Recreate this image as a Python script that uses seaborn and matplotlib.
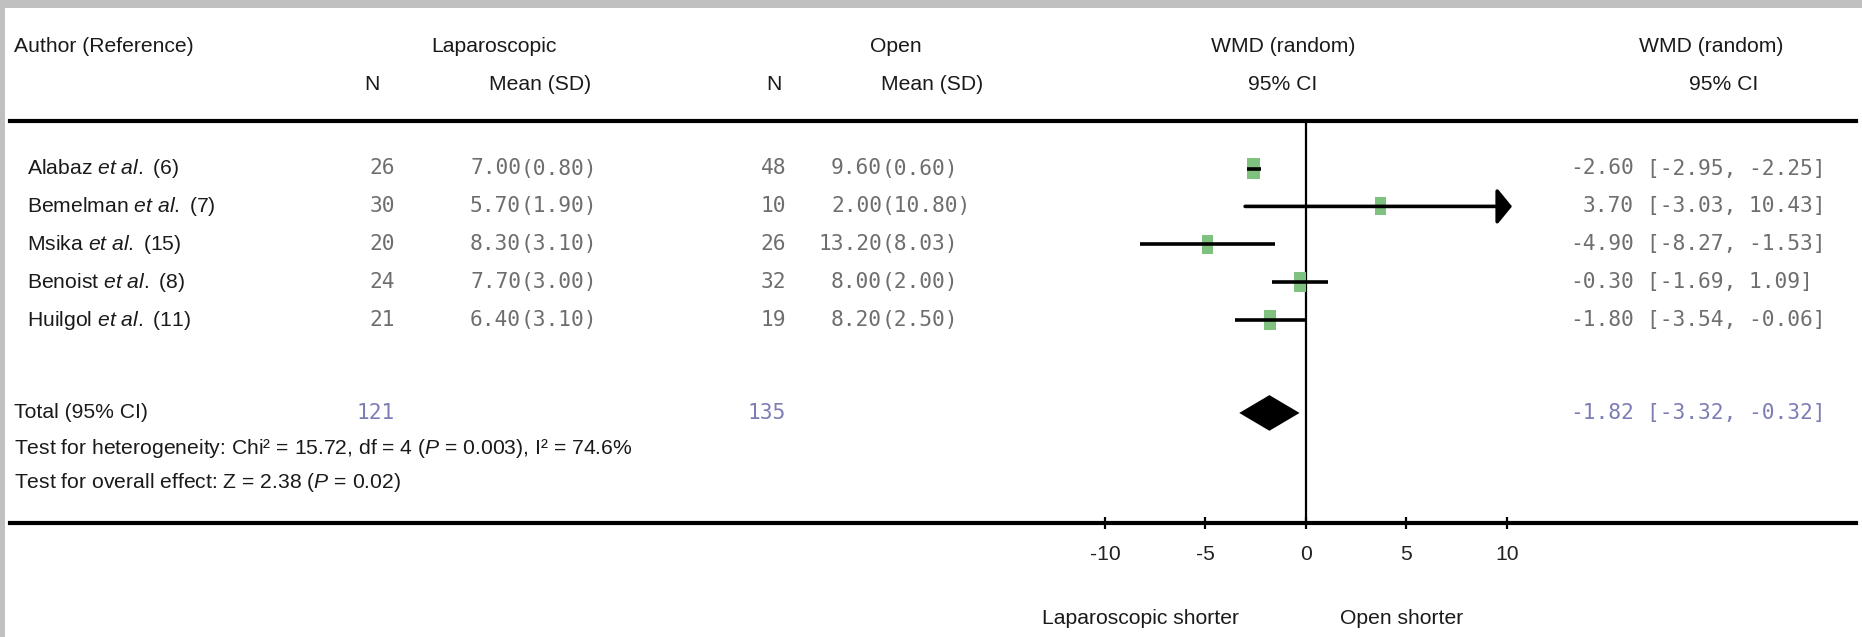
import numpy as np
import pandas as pd
import matplotlib
matplotlib.use("Agg")
import matplotlib.pyplot as plt
import seaborn as sns
from matplotlib import transforms
from matplotlib.patches import Rectangle

# ---------------- data ----------------
authors = ["Alabaz", "Bemelman", "Msika", "Benoist", "Huilgol"]
refs = [6, 7, 15, 8, 11]
lap_n = [26, 30, 20, 24, 21]
lap_mean = [7.00, 5.70, 8.30, 7.70, 6.40]
lap_sd = [0.80, 1.90, 3.10, 3.00, 3.10]
open_n = [48, 10, 26, 32, 19]
open_mean = [9.60, 2.00, 13.20, 8.00, 8.20]
open_sd = [0.60, 10.80, 8.03, 2.00, 2.50]
wmd = [-2.60, 3.70, -4.90, -0.30, -1.80]
ci_low = [-2.95, -3.03, -8.27, -1.69, -3.54]
ci_high = [-2.25, 10.43, -1.53, 1.09, -0.06]
weight = [33.4, 4.3, 12.5, 26.4, 23.4]
total_lap_n = 121
total_open_n = 135
total_wmd = -1.82
total_low = -3.32
total_high = -0.32
x_ticks = [-10, -5, 0, 5, 10]
heterogeneity = "Test for heterogeneity: Chi² = 15.72, df = 4 ($\\mathit{P}$ = 0.003), I² = 74.6%"
overall = "Test for overall effect: Z = 2.38 ($\\mathit{P}$ = 0.02)"
left_label = "Laparoscopic shorter"
right_label = "Open shorter"

# ---------------- style ----------------
sns.set_theme(style="white")
fam = "Liberation Sans"
fs = 15.2
mono = "DejaVu Sans Mono"
mfs = 15.3
plt.rcParams["font.family"] = [fam, "DejaVu Sans"]
plt.rcParams["mathtext.fontset"] = "custom"
plt.rcParams["mathtext.rm"] = fam
plt.rcParams["mathtext.it"] = fam + ":italic"
plt.rcParams["axes.unicode_minus"] = False

W, H = 1862, 637
fig = plt.figure(figsize=(W / 100, H / 100), dpi=100)
fig.patch.set_facecolor("#c0c0c0")
fig.add_artist(Rectangle((5 / W, 0), 1, 1 - 8 / H, transform=fig.transFigure,
                         facecolor="white", edgecolor="none", zorder=-10))

zero_px, ppu = 1306, 20.1
L, R = 10, 1856
top_px, bot_px = 121, 523
row0, rowstep = 168.5, 37.9
ax = fig.add_axes([L / W, 1 - bot_px / H, (R - L) / W, (bot_px - top_px) / H])
ax.set_xlim((L - zero_px) / ppu, (R - zero_px) / ppu)
ax.set_ylim((bot_px - row0) / rowstep, (top_px - row0) / rowstep)
ax.patch.set_alpha(0)
for s in ["left", "right"]:
    ax.spines[s].set_visible(False)
for s in ["top", "bottom"]:
    ax.spines[s].set_linewidth(3)
    ax.spines[s].set_color("black")

rows = list(range(len(authors)))
total_row = 6.45
df = pd.DataFrame({"row": rows, "wmd": wmd, "weight": weight})

rect_marker = [(-0.6, -1), (0.6, -1), (0.6, 1), (-0.6, 1), (-0.6, -1)]
sns.scatterplot(data=df, x="wmd", y="row", size="weight", sizes=(170, 235),
                marker=rect_marker, color="#7fc27f", edgecolor="none",
                linewidth=0, legend=False, ax=ax, zorder=3)

clip_hi = 10.25
for r, lo, hi in zip(rows, ci_low, ci_high):
    if hi > clip_hi:
        ax.annotate("", xy=(clip_hi, r), xytext=(lo, r),
                    arrowprops=dict(arrowstyle="-|>,head_length=0.45,head_width=0.55",
                                    lw=2.6, color="black", mutation_scale=20,
                                    shrinkA=0, shrinkB=0), zorder=4)
    else:
        ax.hlines(r, lo, hi, color="black", lw=2.6, zorder=4)

dh = 0.47
ax.fill([total_low, total_wmd, total_high, total_wmd],
        [total_row, total_row - dh, total_row, total_row + dh],
        color="black", zorder=4, lw=0)
ax.axvline(0, color="black", lw=1.6, zorder=2)

ax.set_xticks(x_ticks)
ax.set_xticklabels([str(t) for t in x_ticks])
ax.set_yticks([])
ax.tick_params(axis="x", direction="inout", length=9, width=1.6, pad=11,
               labelsize=fs, colors="black", bottom=True)
for lab in ax.get_xticklabels():
    lab.set_color("#222222")
ax.set_xlabel("")
ax.set_ylabel("")

# ---------------- text ----------------
tr = transforms.blended_transform_factory(fig.transFigure, ax.transData)


def ft(xp, yp, s, **kw):
    kw.setdefault("fontsize", fs)
    kw.setdefault("color", "#1a1a1a")
    kw.setdefault("va", "center")
    fig.text(xp / W, 1 - yp / H, s, **kw)


def rt(xp, r, s, **kw):
    kw.setdefault("fontsize", fs)
    kw.setdefault("color", "#1a1a1a")
    kw.setdefault("va", "center")
    fig.text(xp / W, r, s, transform=tr, **kw)


h1, h2 = 47, 85
ft(14, h1, "Author (Reference)", ha="left")
ft(494, h1, "Laparoscopic", ha="center")
ft(372, h2, "N", ha="center")
ft(540, h2, "Mean (SD)", ha="center")
ft(896, h1, "Open", ha="center")
ft(774, h2, "N", ha="center")
ft(932, h2, "Mean (SD)", ha="center")
ft(1283, h1, "WMD (random)", ha="center")
ft(1283, h2, "95% CI", ha="center")
ft(1711, h1, "WMD (random)", ha="center")
ft(1724, h2, "95% CI", ha="center")

gray = "#6e6e6e"
blue = "#7d7db6"
lap_paren, open_paren = 521, 882
est_right = 1634
for r, a, rf, ln, lm, ls, on, om, osd, w, lo, hi in zip(
        rows, authors, refs, lap_n, lap_mean, lap_sd, open_n, open_mean,
        open_sd, wmd, ci_low, ci_high):
    rt(27, r, f"$\\mathrm{{{a}}}\\ \\mathit{{et\\ al.}}\\ \\mathrm{{({rf})}}$", ha="left")
    mk = dict(fontfamily=mono, fontsize=mfs, color=gray)
    rt(395, r, f"{ln}", ha="right", **mk)
    rt(lap_paren, r, f"{lm:.2f}", ha="right", **mk)
    rt(lap_paren, r, f"({ls:.2f})", ha="left", **mk)
    rt(786, r, f"{on}", ha="right", **mk)
    rt(open_paren, r, f"{om:.2f}", ha="right", **mk)
    rt(open_paren, r, f"({osd:.2f})", ha="left", **mk)
    rt(est_right, r, f"{w:.2f}", ha="right", **mk)
    rt(est_right + 12.8, r, f"[{lo:.2f}, {hi:.2f}]", ha="left", **mk)

mk = dict(fontfamily=mono, fontsize=mfs, color=blue)
rt(14, total_row, "Total (95% CI)", ha="left")
rt(395, total_row, f"{total_lap_n}", ha="right", **mk)
rt(786, total_row, f"{total_open_n}", ha="right", **mk)
rt(est_right, total_row, f"{total_wmd:.2f}", ha="right", **mk)
rt(est_right + 12.8, total_row, f"[{total_low:.2f}, {total_high:.2f}]", ha="left", **mk)

ft(14, 449, heterogeneity, ha="left")
ft(14, 483, overall, ha="left")
ft(1140, 618, left_label, ha="center")
ft(1402, 618, right_label, ha="center")

fig.savefig("out.png", dpi=100, facecolor=fig.get_facecolor())
